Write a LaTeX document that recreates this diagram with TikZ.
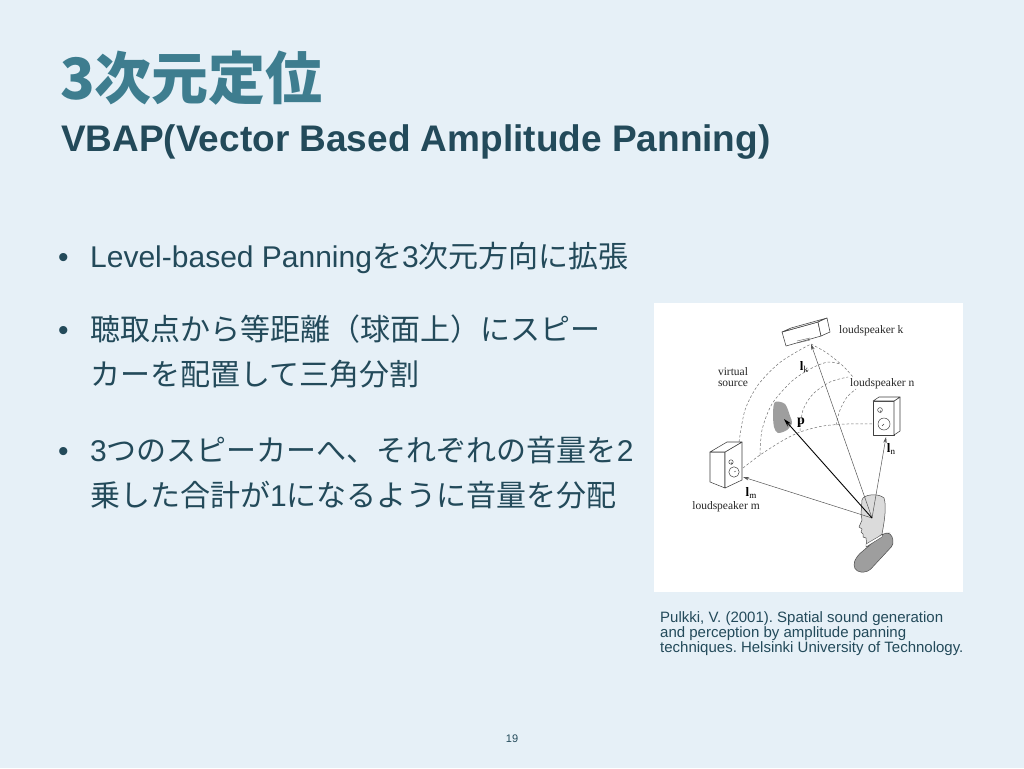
\documentclass[tikz,border=0pt]{standalone}
\usepackage{fontspec}
\setmainfont{Liberation Sans}
\newfontfamily\lsans{Liberation Sans}
\newfontfamily\lserif{Liberation Serif}
\newfontfamily\cjk{Noto Sans CJK JP}
\usetikzlibrary{arrows.meta}
\definecolor{bgc}{RGB}{230,240,247}
\definecolor{titlec}{RGB}{62,125,143}
\definecolor{darkc}{RGB}{35,74,90}
\definecolor{linec}{RGB}{85,85,85}
\newcommand\vlab[2]{{\lserif\fontsize{13}{13}\selectfont\bfseries #1}\raisebox{-2.5pt}{\lserif\fontsize{9}{9}\selectfont #2}}
\frenchspacing
\begin{document}
\begin{tikzpicture}[x=1pt,y=-1pt,
  titletxt/.style={anchor=base west,inner sep=0,text=titlec,font=\cjk\bfseries\fontsize{57}{60}\selectfont},
  subtxt/.style={anchor=base west,inner sep=0,text=darkc,font=\lsans\bfseries\fontsize{37}{40}\selectfont},
  bul/.style={anchor=base west,inner sep=0,text=darkc,font=\lsans\fontsize{30}{34}\selectfont},
  bodytxt/.style={anchor=base west,inner sep=0,text=darkc,font=\fontsize{30}{34}\selectfont},
  citetxt/.style={anchor=base west,inner sep=0,text=darkc,font=\lsans\fontsize{15}{16}\selectfont},
  figtxt/.style={inner sep=0,font=\lserif\fontsize{11.5}{12}\selectfont,text=black!85},
  arcd/.style={draw=black!55,line width=0.5pt,dash pattern=on 2.6pt off 2pt},
  boxst/.style={draw=black!75,line width=0.55pt,fill=white,line join=round},
  vec/.style={draw=linec,line width=0.5pt,-{Stealth[length=6pt,width=3.4pt]}},
  pvec/.style={draw=black,line width=0.9pt,-{Stealth[length=8pt,width=4.6pt]}}
]
\useasboundingbox (0,0) rectangle (1024,768);
\fill[bgc] (0,0) rectangle (1024,768);

% title and subtitle
\node[titletxt] (title) at (60,99) {3次元定位};
\node[subtxt] (subtitle) at (61,151) {VBAP(Vector Based Amplitude Panning)};

% bullets
\node[bul] (b1) at (58,267) {•};
\node[bodytxt] (t1) at (90,267) {{\lsans Level-based Panning}{\cjk を}{\lsans 3}{\cjk 次元方向に拡張}};
\node[bul] (b2) at (58,340) {•};
\node[bodytxt] (t2) at (90,340) {\cjk 聴取点から等距離（球面上）にスピー};
\node[bodytxt] (t3) at (90,385) {\cjk カーを配置して三角分割};
\node[bul] (b3) at (58,461) {•};
\node[bodytxt] (t4) at (90,461) {{\lsans 3}{\cjk つのスピーカーへ、それぞれの音量を}{\lsans 2}};
\node[bodytxt] (t5) at (90,506) {{\cjk 乗した合計が}{\lsans 1}{\cjk になるように音量を分配}};

% figure panel
\fill[white] (654,303) rectangle (963,592);

% dashed sphere arcs
\draw[arcd] plot[smooth] coordinates {(739,442) (745,410) (758,385) (778,364) (798,351) (811,344)};
\draw[arcd] plot[smooth] coordinates {(811,344) (827,353) (843,366) (853,377)};
\draw[arcd] plot[smooth] coordinates {(743,468) (760,455) (782,441) (800,432) (823,426) (847,424) (873,424)};
\draw[arcd] plot[smooth] coordinates {(760,455) (762,430) (772,404) (792,381) (812,368) (828,362) (840,364)};
\draw[arcd] plot[smooth] coordinates {(800,431) (803,410) (813,394) (830,382) (848,377)};
\draw[arcd] plot[smooth] coordinates {(836,425) (840,410) (847,397) (856,389)};

% virtual source blob
\fill[black!38] plot[smooth cycle] coordinates {(775,402) (785,404) (790,416) (792,423) (787,430) (778,433) (774,427) (773,413)};

% loudspeaker k
\draw[boxst] (782,332) -- (818,322) -- (821,336) -- (786,346) -- cycle;
\draw[boxst] (782,332) -- (791,328) -- (827,318) -- (818,322) -- cycle;
\draw[boxst] (818,322) -- (827,318) -- (830,332) -- (821,336) -- cycle;
\draw[black!60,line width=0.4pt] (797,341) -- (810,338);
\draw[black!60,line width=0.4pt] (797,343) -- (810,340);

% loudspeaker n
\draw[boxst] (873,401) rectangle (894,435);
\draw[boxst] (894,401) -- (900,397) -- (900,431) -- (894,435) -- cycle;
\draw[boxst] (873,401) -- (879,397) -- (900,397) -- (894,401) -- cycle;
\draw[black!75,line width=0.5pt] (880,410) circle[radius=2.4pt];
\draw[black!75,line width=0.5pt] (884,424) circle[radius=6pt];
\draw[black!75,line width=0.4pt] (880,410) -- (881,413);
\draw[black!75,line width=0.4pt] (884,424) -- (882,426);

% loudspeaker m
\draw[boxst] (710,452) -- (725,452) -- (725,488) -- (710,482) -- cycle;
\draw[boxst] (725,452) -- (742,442) -- (742,480) -- (725,488) -- cycle;
\draw[boxst] (710,452) -- (727,442) -- (742,442) -- (725,452) -- cycle;
\draw[black!75,line width=0.5pt] (731,462) circle[radius=2.2pt];
\draw[black!75,line width=0.5pt] (734,472) circle[radius=5.2pt];
\draw[black!75,line width=0.4pt] (731,462) -- (732,465);
\draw[black!75,line width=0.4pt] (734,472) -- (736,471);

% listener
\draw[draw=black!70,line width=0.5pt,fill=black!14,line join=round]
  (862,500) .. controls (863,494) and (879,493) .. (884,498)
  .. controls (887,507) and (884,523) .. (882,534) -- (867,547) -- (866,538)
  -- (863,537) -- (863,534) -- (861,532) -- (862,529) -- (859,527) -- (862,520)
  -- (861,514) -- cycle;
\draw[draw=black!70,line width=0.5pt,fill=black!38,rounded corners=4pt]
  (857,556) -- (884,533) -- (891,533) -- (894,544) -- (868,572) -- (857,572) -- (853,565) -- cycle;
\draw[draw=black!70,line width=0.4pt,fill=white] (866,547) -- (882,537) -- (883,534) -- (866,544) -- cycle;

% vectors
\coordinate (ear) at (872,518);
\coordinate (ktip) at (811,344);
\coordinate (ntip) at (886,437);
\coordinate (mtip) at (743,477);
\coordinate (ptip) at (784,419);
\draw[vec] (ear) -- (ktip);
\draw[vec] (ear) -- (ntip);
\draw[vec] (ear) -- (mtip);
\draw[pvec] (ear) -- (ptip);

% figure labels
\node[figtxt,anchor=west] (lsk) at (839,331) {loudspeaker k};
\node[figtxt,anchor=west] (lsn) at (850,384) {loudspeaker n};
\node[figtxt] (lsm) at (726,507) {loudspeaker m};
\node[figtxt,align=center] (vs) at (733,377) {virtual\\[-1pt]source};
\node[inner sep=0] (lk) at (804,367) {\vlab{l}{k}};
\node[inner sep=0] (ln) at (891,449) {\vlab{l}{n}};
\node[inner sep=0] (lm) at (751,493) {\vlab{l}{m}};
\node[inner sep=0,font=\lserif\bfseries\fontsize{14}{14}\selectfont] (pl) at (801,423) {p};

% citation
\node[citetxt] (c1) at (660,622) {Pulkki, V. (2001). Spatial sound generation};
\node[citetxt] (c2) at (660,637) {and perception by amplitude panning};
\node[citetxt] (c3) at (660,652) {techniques. Helsinki University of Technology.};

% page number
\node[anchor=base,inner sep=0,text=darkc,font=\lsans\fontsize{11}{12}\selectfont] (pg) at (512,742) {19};
\end{tikzpicture}
\end{document}
